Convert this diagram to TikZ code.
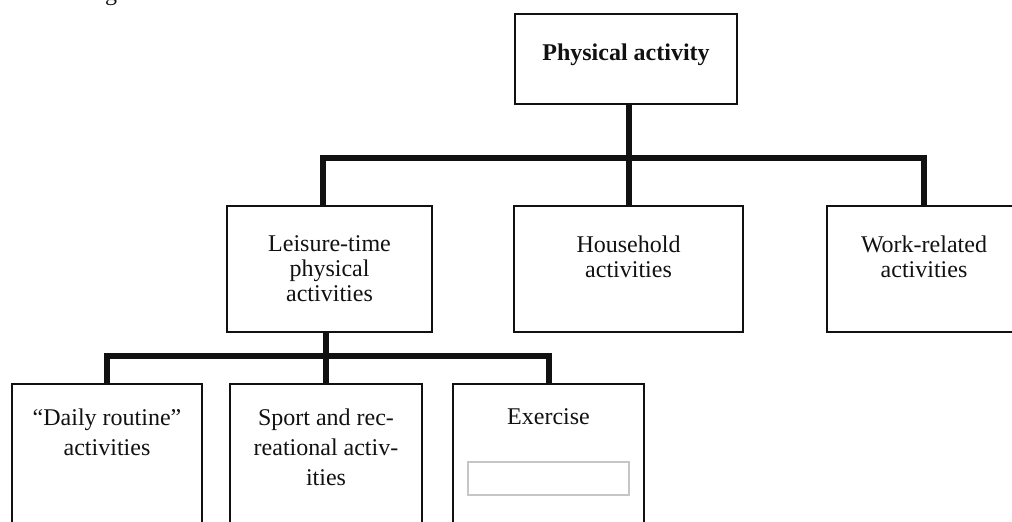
\documentclass[tikz,border=0pt]{standalone}
\usepackage{fontspec}
\setmainfont{Liberation Serif}
\usetikzlibrary{positioning}
\definecolor{orgInk}{HTML}{111111}
\definecolor{orgField}{HTML}{C6C6C6}
\tikzset{
  every picture/.style={font=\fontsize{12}{12.5}\selectfont, text=orgInk},
  org box/.style={draw=orgInk, line width=1pt, fill=white, inner sep=0pt},
  org text/.style={align=center, inner sep=0pt, font=\fontsize{12}{12.5}\selectfont},
  org low text/.style={org text, font=\fontsize{12}{15}\selectfont},
  org link/.style={draw=orgInk, line width=3pt},
  org field/.style={draw=orgField, line width=0.6pt, inner sep=0pt}
}

\begin{document}
\begin{tikzpicture}[x=0.5pt,y=-0.5pt]
  \path[use as bounding box, clip] (0,0) rectangle (1012,522);
  \node[anchor=base, inner sep=0pt] (cut) at (111,1) {g};
  % top level
  \node[org box, minimum width=111pt, minimum height=45pt] (phys) at (626,59) {};
  \node[org text, below=15pt of phys.north] (physlbl) {\textbf{Physical activity}};
  % second level
  \node[org box, minimum width=102.5pt, minimum height=63pt] (leisure) at (329.5,269) {};
  \node[org box, minimum width=114.5pt, minimum height=63pt] (house) at (628.5,269) {};
  \node[org box, minimum width=97pt, minimum height=63pt] (work) at (924,269) {};
  \node[org text, below=15pt of leisure.north] (leisurelbl) {Leisure-time\\physical\\activities};
  \node[org text, below=15pt of house.north] (houselbl) {Household\\activities};
  \node[org text, below=15pt of work.north] (worklbl) {Work-related\\activities};
  % third level
  \node[org box, minimum width=95pt, minimum height=80pt] (daily) at (107,464) {};
  \node[org box, minimum width=96pt, minimum height=80pt] (sport) at (326,464) {};
  \node[org box, minimum width=95.5pt, minimum height=80pt] (exer) at (548.5,464) {};
  \node[org low text, below=12.5pt of daily.north] (dailylbl) {``Daily routine''\\activities};
  \node[org low text, below=12.5pt of sport.north] (sportlbl) {Sport and rec-\\reational activ-\\ities};
  \node[org low text, below=12.5pt of exer.north] (exerlbl) {Exercise};
  \node[org field, minimum width=80.5pt, minimum height=16.5pt] (exerfield) at (548.5,478.5) {};
  % connectors
  \coordinate (upbar) at (0,158);
  \coordinate (lowbar) at (0,356);
  \draw[org link] (house.north |- phys.south) -- (house.north);
  \draw[org link] ([xshift=-3.25pt]leisure.north) |- (work.north |- upbar) -- (work.north);
  \draw[org link] (sport.north |- leisure.south) -- (sport.north);
  \draw[org link] (daily.north) |- (exer.north |- lowbar) -- (exer.north);
\end{tikzpicture}
\end{document}
